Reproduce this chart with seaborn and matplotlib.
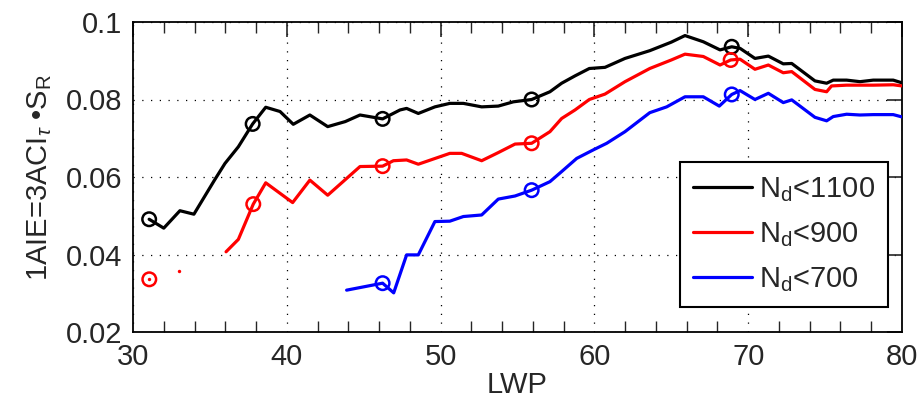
import matplotlib
matplotlib.use('Agg')
import matplotlib.pyplot as plt
import seaborn as sns
import pandas as pd
import numpy as np

# LWP / effect values
x_1100 = [31.05, 32.0, 33.05, 33.96, 35.3, 35.98, 36.85, 37.78, 38.63, 39.56, 40.42, 41.5,
          42.66, 43.8, 44.76, 46.23, 47.36, 47.79, 48.55, 49.63, 50.6, 51.48, 52.67, 53.75,
          54.73, 55.92, 57.11, 57.87, 58.74, 59.67, 60.69, 61.99, 63.6, 65.0, 65.89, 67.08,
          68.17, 68.93, 69.47, 70.44, 71.31, 72.28, 72.83, 74.34, 75.1, 75.53, 76.4, 77.27,
          78.13, 79.43, 80.0]
y_1100 = [0.0491, 0.0468, 0.0513, 0.0504, 0.0592, 0.0635, 0.0678, 0.0737, 0.0780, 0.0769,
          0.0736, 0.0760, 0.0730, 0.0743, 0.0760, 0.0750, 0.0773, 0.0777, 0.0764, 0.0781,
          0.0790, 0.0790, 0.0781, 0.0783, 0.0794, 0.0800, 0.0820, 0.0842, 0.0861, 0.0880,
          0.0883, 0.0906, 0.0926, 0.0948, 0.0965, 0.0949, 0.0928, 0.0936, 0.0932, 0.0906,
          0.0912, 0.0892, 0.0893, 0.0848, 0.0842, 0.0850, 0.0850, 0.0846, 0.0850, 0.0850,
          0.0843]

x_900 = [36.05, 36.85, 37.82, 38.63, 40.38, 41.5, 42.66, 44.76, 46.23, 46.93, 47.79, 48.55,
         50.6, 51.37, 52.67, 53.75, 54.84, 55.92, 57.11, 57.87, 58.74, 59.67, 60.69, 61.99,
         63.6, 65.0, 65.89, 67.08, 68.17, 68.86, 69.47, 70.44, 71.31, 72.28, 72.83, 74.34,
         75.1, 75.42, 76.4, 78.13, 79.43, 80.0]
y_900 = [0.0407, 0.0439, 0.0530, 0.0585, 0.0534, 0.0592, 0.0553, 0.0627, 0.0628, 0.0642,
         0.0644, 0.0633, 0.0661, 0.0661, 0.0642, 0.0663, 0.0685, 0.0687, 0.0717, 0.0751,
         0.0773, 0.0800, 0.0814, 0.0846, 0.0880, 0.0902, 0.0917, 0.0911, 0.0889, 0.0902,
         0.0904, 0.0878, 0.0889, 0.0869, 0.0872, 0.0826, 0.0820, 0.0835, 0.0837, 0.0837,
         0.0838, 0.0835]
# isolated red samples (no neighbours to join)
x_900_pts = [31.06, 33.0]
y_900_pts = [0.0336, 0.0357]

x_700 = [43.89, 46.23, 46.95, 47.79, 48.55, 49.63, 50.6, 51.48, 52.67, 53.75, 54.84, 55.92,
         57.11, 57.87, 58.85, 59.93, 60.8, 61.99, 63.6, 64.7, 65.57, 65.89, 67.08, 68.12,
         68.93, 69.47, 70.44, 71.31, 72.28, 72.83, 74.34, 75.1, 75.53, 76.4, 77.27, 78.13,
         79.43, 80.0]
y_700 = [0.0308, 0.0326, 0.0301, 0.0399, 0.0399, 0.0485, 0.0486, 0.0498, 0.0502, 0.0543,
         0.0551, 0.0566, 0.0588, 0.0614, 0.0648, 0.0670, 0.0687, 0.0717, 0.0766, 0.0781,
         0.0800, 0.0807, 0.0807, 0.0783, 0.0813, 0.0823, 0.0800, 0.0816, 0.0792, 0.0799,
         0.0754, 0.0745, 0.0756, 0.0762, 0.0760, 0.0761, 0.0761, 0.0755]

# circled samples
mx_1100 = [31.05, 37.78, 46.23, 55.92, 68.93]
my_1100 = [0.0491, 0.0737, 0.0750, 0.0800, 0.0936]
mx_900 = [31.06, 37.82, 46.23, 55.92, 68.86]
my_900 = [0.0336, 0.0530, 0.0628, 0.0687, 0.0902]
mx_700 = [46.23, 55.92, 68.93]
my_700 = [0.0326, 0.0566, 0.0813]

labels = ['N$_\\mathrm{d}$<1100', 'N$_\\mathrm{d}$<900', 'N$_\\mathrm{d}$<700']
colors = ['black', 'red', 'blue']

sns.set_style('white')
plt.rcParams['font.family'] = ['Liberation Sans', 'DejaVu Sans']
plt.rcParams['mathtext.fontset'] = 'custom'
plt.rcParams['mathtext.rm'] = 'Liberation Sans'
plt.rcParams['mathtext.it'] = 'Liberation Sans:italic'
plt.rcParams['mathtext.sf'] = 'Liberation Sans'

fig = plt.figure(figsize=(9.2, 4), dpi=100)
ax = fig.add_axes([133 / 920, 1 - 332 / 400, 769 / 920, 310 / 400])

series = [(x_1100, y_1100), (x_900, y_900), (x_700, y_700)]
marks = [(mx_1100, my_1100), (mx_900, my_900), (mx_700, my_700)]
for (xs, ys), (mxs, mys), lab, c in zip(series, marks, labels, colors):
    df = pd.DataFrame({'LWP': xs, 'val': ys})
    sns.lineplot(data=df, x='LWP', y='val', color=c, lw=2.3, sort=False,
                 estimator=None, label=lab, ax=ax, zorder=3)
    mdf = pd.DataFrame({'LWP': mxs, 'val': mys})
    sns.scatterplot(data=mdf, x='LWP', y='val', marker='o', s=95, facecolor='none',
                    edgecolor=c, linewidth=1.8, ax=ax, zorder=4, legend=False)

pdf = pd.DataFrame({'LWP': x_900_pts, 'val': y_900_pts})
sns.scatterplot(data=pdf, x='LWP', y='val', marker='o', s=6, color='red',
                linewidth=0, ax=ax, zorder=4, legend=False)

ax.set_xlim(30, 80)
ax.set_ylim(0.02, 0.1)
ax.set_xticks([30, 40, 50, 60, 70, 80])
ax.set_xticks(np.arange(30, 81, 2), minor=True)
ax.set_yticks([0.02, 0.04, 0.06, 0.08, 0.1])
ax.set_yticklabels(['0.02', '0.04', '0.06', '0.08', '0.1'])
ax.tick_params(which='major', direction='in', length=11, width=1.2, top=True, right=True,
               labelsize=21, pad=8)
ax.tick_params(which='minor', direction='in', length=8, width=1.0, top=True, right=False,
               bottom=True)

ax.grid(True, which='major', color='black', linestyle=(0, (1, 6)), linewidth=0.9)
for s in ax.spines.values():
    s.set_linewidth(1.3)
    s.set_color('black')

ax.set_xlabel('LWP', fontsize=21, labelpad=0)
ax.set_ylabel('1AIE=3ACI$_\\tau$ •S$_\\mathrm{R}$', fontsize=21, labelpad=8)

leg = ax.legend(loc='lower right', bbox_to_anchor=(0.982, 0.081), borderaxespad=0,
                fontsize=21, frameon=True, fancybox=False, framealpha=1,
                handlelength=2.0, handletextpad=0.25, labelspacing=0.55,
                borderpad=0.45)
leg.get_frame().set_edgecolor('black')
leg.get_frame().set_linewidth(1.5)

fig.savefig('out.png', dpi=100)
